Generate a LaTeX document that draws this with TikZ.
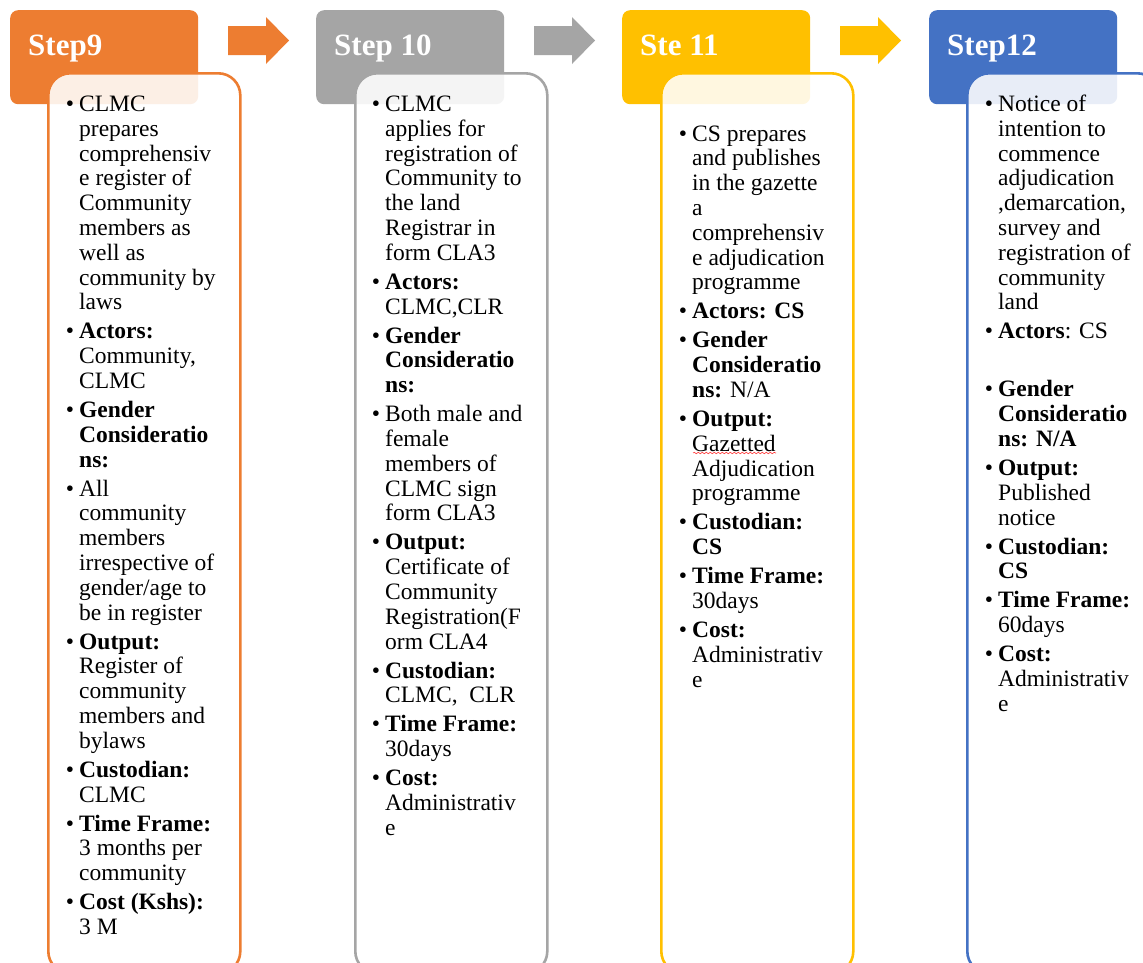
\documentclass[tikz,border=0pt]{standalone}
\usepackage{fontspec}
\setmainfont{Liberation Serif}
\usetikzlibrary{decorations.pathmorphing}

\definecolor{corange}{HTML}{ED7D31}
\definecolor{cgray}{HTML}{A5A5A5}
\definecolor{cyellow}{HTML}{FFC000}
\definecolor{cblue}{HTML}{4472C4}

% bullet hanging into the left margin of a text column
\newcommand\bl{\llap{•\hspace{5pt}}}

\tikzset{
  headbox/.style={fill=#1, draw=none, rounded corners=8pt, inner sep=0pt,
    minimum width=188pt, minimum height=94pt, anchor=north west},
  headtext/.style={text=white, inner sep=0pt, anchor=base west,
    font=\fontsize{31}{36}\selectfont\bfseries},
  bodybox/.style={draw=#1, line width=2.6pt, fill=white, fill opacity=0.88,
    rounded corners=22pt, inner sep=0pt,
    minimum width=192pt, minimum height=900pt, anchor=north west},
  bodytext/.style={inner sep=0pt, anchor=base west, text=black,
    font=\fontsize{23.5}{24.8}\selectfont},
  blockarrow/.style={fill=#1, draw=none},
}

\begin{document}
\begin{tikzpicture}[x=1pt, y=-1pt]
\useasboundingbox (0,0) rectangle (1143,962);
\clip (0,0) rectangle (1143,962);
\fill[white] (0,0) rectangle (1143,962);

% coloured step headers
\node[headbox=corange] (h9)  at (10,10)  {};
\node[headbox=cgray]   (h10) at (316,10) {};
\node[headbox=cyellow] (h11) at (622,10) {};
\node[headbox=cblue]   (h12) at (929,10) {};

\node[headtext] (t9)  at (28,55)  {Step9};
\node[headtext] (t10) at (334,55) {Step 10};
\node[headtext] (t11) at (640,55) {Ste 11};
\node[headtext] (t12) at (947,55) {Step12};

% block arrows between the headers
\fill[blockarrow=corange] (228,26) -- (266,26) -- (266,17) -- (289,40.5)
  -- (266,64) -- (266,55) -- (228,55) -- cycle;
\fill[blockarrow=cgray] (534,26) -- (572,26) -- (572,17) -- (595,40.5)
  -- (572,64) -- (572,55) -- (534,55) -- cycle;
\fill[blockarrow=cyellow] (840,26) -- (878,26) -- (878,17) -- (901,40.5)
  -- (878,64) -- (878,55) -- (840,55) -- cycle;

% detail panels
\node[bodybox=corange] (b9)  at (47,72)  {};
\node[bodybox=cgray]   (b10) at (354,72) {};
\node[bodybox=cyellow] (b11) at (660,72) {};
\node[bodybox=cblue]   (b12) at (966,72) {};

% Step 9 details
\node[bodytext] (d9) at (79,111.5) {\begin{tabular}[t]{@{}l@{}}
\bl CLMC\\
prepares\\
comprehensiv\\
e register of\\
Community\\
members as\\
well as\\
community by\\
laws\\[4.2pt]
\bl\textbf{Actors:}\\
Community,\\
CLMC\\[4.2pt]
\bl\textbf{Gender}\\
\textbf{Consideratio}\\
\textbf{ns:}\\[4.2pt]
\bl All\\
community\\
members\\
irrespective of\\
gender/age to\\
be in register\\[4.2pt]
\bl\textbf{Output:}\\
Register of\\
community\\
members and\\
bylaws\\[4.2pt]
\bl\textbf{Custodian:}\\
CLMC\\[4.2pt]
\bl\textbf{Time Frame:}\\
3 months per\\
community\\[4.2pt]
\bl\textbf{Cost (Kshs):}\\
3 M
\end{tabular}};

% Step 10 details
\node[bodytext] (d10) at (385,111.5) {\begin{tabular}[t]{@{}l@{}}
\bl CLMC\\
applies for\\
registration of\\
Community to\\
the land\\
Registrar in\\
form CLA3\\[4.2pt]
\bl\textbf{Actors:}\\
CLMC,CLR\\[4.2pt]
\bl\textbf{Gender}\\
\textbf{Consideratio}\\
\textbf{ns:}\\[4.2pt]
\bl Both male and\\
female\\
members of\\
CLMC sign\\
form CLA3\\[4.2pt]
\bl\textbf{Output:}\\
Certificate of\\
Community\\
Registration(F\\
orm CLA4\\[4.2pt]
\bl\textbf{Custodian:}\\
CLMC,\ \ CLR\\[4.2pt]
\bl\textbf{Time Frame:}\\
30days\\[4.2pt]
\bl\textbf{Cost:}\\
Administrativ\\
e
\end{tabular}};

% Step 11 details
\node[bodytext] (d11) at (692,141) {\begin{tabular}[t]{@{}l@{}}
\bl CS prepares\\
and publishes\\
in the gazette\\
a\\
comprehensiv\\
e adjudication\\
programme\\[4.2pt]
\bl\textbf{Actors: CS}\\[4.2pt]
\bl\textbf{Gender}\\
\textbf{Consideratio}\\
\textbf{ns:} N/A\\[4.2pt]
\bl\textbf{Output:}\\
Gazetted\\
Adjudication\\
programme\\[4.2pt]
\bl\textbf{Custodian:}\\
\textbf{CS}\\[4.2pt]
\bl\textbf{Time Frame:}\\
30days\\[4.2pt]
\bl\textbf{Cost:}\\
Administrativ\\
e
\end{tabular}};
\draw[red!80, line width=0.6pt, decorate,
  decoration={snake, amplitude=0.7pt, segment length=4pt}]
  (693,453) -- (776,453);

% Step 12 details
\node[bodytext] (d12) at (998,111.5) {\begin{tabular}[t]{@{}l@{}}
\bl Notice of\\
intention to\\
commence\\
adjudication\\
,demarcation,\\
survey and\\
registration of\\
community\\
land\\[4.2pt]
\bl\textbf{Actors}: CS\\[4.2pt]
\\[4.2pt]
\bl\textbf{Gender}\\
\textbf{Consideratio}\\
\textbf{ns: N/A}\\[4.2pt]
\bl\textbf{Output:}\\
Published\\
notice\\[4.2pt]
\bl\textbf{Custodian:}\\
\textbf{CS}\\[4.2pt]
\bl\textbf{Time Frame:}\\
60days\\[4.2pt]
\bl\textbf{Cost:}\\
Administrativ\\
e
\end{tabular}};
\end{tikzpicture}
\end{document}
